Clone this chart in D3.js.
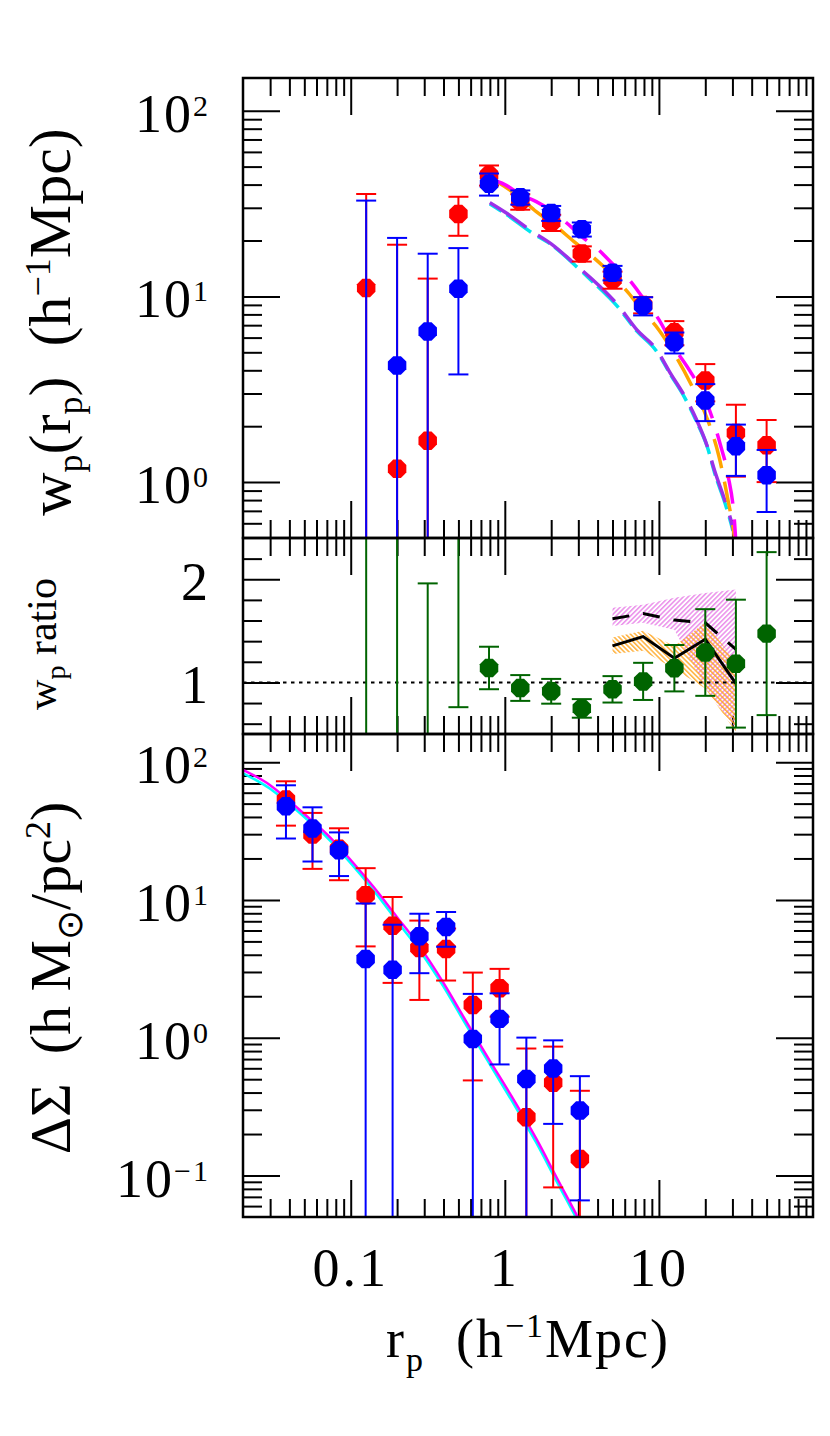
<!DOCTYPE html>
<html>
<head>
<meta charset="utf-8">
<script src="https://cdn.jsdelivr.net/npm/d3@7"></script>
<style>
  body { margin: 0; background: #fff; }
  svg text { font-family: "Liberation Serif", "Times New Roman", serif; fill: #000; white-space: pre; }
</style>
</head>
<body>
<svg id="chart" width="830" height="1436"></svg>
<script>
// projected clustering, w_p(r_p)
const rpWp = [0.126, 0.2, 0.316, 0.5, 0.79, 1.26, 2.0, 3.16, 5.0, 7.9, 12.6, 20, 31.6, 50];
const wpRed = [11.1, 1.18, 1.67, 27.8, 45.1, 32.4, 25.0, 17.0, 12.3, 9.0, 6.41, 3.52, 1.84, 1.58];
const wpRedErr = [24.5, 17.8, 10.8, 6.6, 5.6, 3.1, 2.5, 1.6, 1.3, 0.9, 0.95, 0.8, 0.77, 0.58];
const wpBlue = [0.3, 4.25, 6.48, 11.0, 40.4, 34.2, 28.1, 23.0, 13.4, 8.9, 5.66, 2.75, 1.56, 1.09];
const wpBlueErr = [32.5, 16.4, 10.5, 7.2, 5.5, 3.0, 2.6, 2.0, 1.2, 1.0, 0.73, 0.62, 0.48, 0.4];

// model curves for w_p
const magX = [0.8, 1.0, 1.26, 1.6, 2.0, 2.5, 3.16, 4.0, 5.0, 6.3, 7.9, 10, 12.6, 15.8, 20, 25, 28, 31, 32];
const magY = [43, 40, 35.5, 32.4, 29, 25, 21, 18, 15, 12.5, 9.8, 7.5, 5.3, 4.0, 2.8, 1.6, 1.1, 0.6, 0.4];
const orX = [0.8, 1.0, 1.26, 1.6, 2.0, 2.8, 3.7, 5.0, 6.3, 7.9, 10, 12.6, 16, 21, 24.5, 28, 31, 32];
const orY = [44, 39, 34, 28.6, 25, 19.8, 16.4, 13.0, 10.5, 8.3, 6.6, 4.9, 3.42, 2.1, 1.38, 0.81, 0.5, 0.4];
const puX = [0.8, 1.0, 1.5, 2.0, 3.05, 3.6, 5.4, 7.2, 9.6, 12, 14.7, 17.4, 20.6, 23, 27, 30, 32];
const puY = [32, 28.5, 22.4, 19.2, 14.2, 12.6, 9.0, 6.6, 5.2, 3.8, 2.9, 2.2, 1.56, 1.15, 0.78, 0.58, 0.45];
const cyX = [0.8, 1.0, 1.5, 2.0, 3.05, 3.6, 5.4, 7.2, 9.6, 12, 14.7, 17.4, 20.6, 23, 27, 30, 32];
const cyY = [31.5, 28, 22, 19, 14, 12.3, 8.8, 6.5, 5.1, 3.75, 2.85, 2.15, 1.55, 1.12, 0.76, 0.56, 0.44];

// ratio panel
const ratio = [3.0, 0.28, 0.26, 2.53, 1.14, 0.946, 0.914, 0.748, 0.933, 1.01, 1.138, 1.29, 1.182, 1.473];
const ratioErr = [3.0, 3.0, 1.7, 1.77, 0.206, 0.125, 0.12, 0.09, 0.128, 0.18, 0.225, 0.42, 0.62, 0.79];
const ratioModX = [5.0, 7.9, 12.6, 20, 31.6];
const ratioDash = [1.617, 1.668, 1.604, 1.578, 1.32];
const ratioSolid = [1.354, 1.444, 1.234, 1.419, 0.988];
const pinkHi = [1.725, 1.754, 1.82, 1.866, 1.9];
const pinkLo = [1.546, 1.578, 1.51, 0.95, 0.55];
const orangeHi = [1.435, 1.50, 1.354, 1.58, 1.2];
const orangeLo = [1.275, 1.306, 1.13, 0.94, 0.52];

// lensing, Delta Sigma
const rpDs = [0.038, 0.0565, 0.084, 0.125, 0.187, 0.279, 0.416, 0.62, 0.925, 1.38, 2.06, 3.07];
const dsRed = [53.6, 29.8, 23.5, 10.8, 6.5, 4.48, 4.4, 1.73, 2.29, 0.265, 0.472, 0.132];
const dsRedErr = [19, 13, 9.6, 6.2, 4.0, 2.6, 1.8, 1.24, 0.87, 0.57, 0.39, 0.28];
const dsBlue = [47.9, 33.0, 22.9, 3.72, 3.11, 5.44, 6.37, 0.98, 1.37, 0.502, 0.597, 0.296];
const dsBlueErr = [20, 14, 8, 5.7, 3.5, 2.5, 1.8, 1.1, 0.73, 0.5, 0.36, 0.23];
const dsModX = [0.02, 0.03, 0.038, 0.05, 0.07, 0.1, 0.14, 0.2, 0.28, 0.4, 0.56, 0.8, 1.1, 1.6, 2.2, 3.0, 3.5];
const dsMag = [88, 68, 55, 42, 30, 19.5, 12.5, 7.5, 4.6, 2.5, 1.32, 0.68, 0.38, 0.185, 0.094, 0.049, 0.035];
const dsCyan = [83, 64, 52, 40, 28.5, 18.5, 11.8, 7.0, 4.3, 2.35, 1.24, 0.64, 0.355, 0.173, 0.088, 0.046, 0.033];

// ticks
const xTickVals = [0.1, 1, 10];
const xTickText = ["0.1", "1", "10"];
const wpTickVals = [100, 10, 1];
const wpTickExp = ["2", "1", "0"];
const ratioTickVals = [2, 1];
const ratioMinor = [0.6, 0.8, 1.2, 1.4, 1.6, 1.8, 2.2];
const dsTickVals = [100, 10, 1, 0.1];
const dsTickExp = ["2", "1", "0", "\u22121"];

const L = 243, R = 813;
const svg = d3.select("#chart");
const defs = svg.append("defs");

const x = d3.scaleLog().domain([0.02, 100]).range([L, R]);
const yTop = d3.scaleLog().domain([0.5, 150]).range([538, 78]);
const yMid = d3.scaleLinear().domain([0.5, 2.4]).range([734, 538]);
const yBot = d3.scaleLog().domain([0.05, 160]).range([1217, 734]);

function logMinor(lo, hi) {
  const out = [];
  for (let k = -3; k <= 3; k++) {
    for (let m = 2; m <= 9; m++) {
      const v = m * Math.pow(10, k);
      if (v > lo * 1.001 && v < hi * 0.999) out.push(v);
    }
  }
  return out;
}
const xMinor = logMinor(0.02, 100);

const panels = [
  { id: "top", y: yTop, y0: 78, y1: 538, major: wpTickVals, minor: logMinor(0.5, 150) },
  { id: "mid", y: yMid, y0: 538, y1: 734, major: ratioTickVals, minor: ratioMinor },
  { id: "bot", y: yBot, y0: 734, y1: 1217, major: dsTickVals, minor: logMinor(0.05, 160) }
];

// ticks on all four sides, pointing inward
panels.forEach(p => {
  defs.append("clipPath").attr("id", "clip-" + p.id)
    .append("rect").attr("x", L).attr("y", p.y0).attr("width", R - L).attr("height", p.y1 - p.y0);
  const g = svg.append("g").attr("class", "ticks");
  const put = (axis, tx, ty, vals, size) => {
    const a = g.append("g").attr("transform", `translate(${tx},${ty})`)
      .call(axis.tickValues(vals).tickSize(-size).tickFormat(""));
    a.select(".domain").remove();
    a.selectAll("line").attr("stroke", "#000").attr("stroke-width", 2);
  };
  put(d3.axisTop(x), 0, p.y0, xTickVals, 37);
  put(d3.axisTop(x), 0, p.y0, xMinor, 18);
  put(d3.axisBottom(x), 0, p.y1, xTickVals, 37);
  put(d3.axisBottom(x), 0, p.y1, xMinor, 18);
  put(d3.axisLeft(p.y), L, 0, p.major, 37);
  put(d3.axisLeft(p.y), L, 0, p.minor, 19);
  put(d3.axisRight(p.y), R, 0, p.major, 37);
  put(d3.axisRight(p.y), R, 0, p.minor, 19);
});

// hatch patterns
function hatch(id, color, angle) {
  const pt = defs.append("pattern").attr("id", id).attr("patternUnits", "userSpaceOnUse")
    .attr("width", 3.4).attr("height", 3.4).attr("patternTransform", `rotate(${angle})`);
  pt.append("line").attr("x1", 0.8).attr("y1", 0).attr("x2", 0.8).attr("y2", 3.4)
    .attr("stroke", color).attr("stroke-width", 1.3);
}
hatch("hatch-pink", "#e77ce7", 45);
hatch("hatch-orange", "#ffa41c", -45);

function octagon(cx, cy, r) {
  const pts = d3.range(8).map(k => {
    const a = Math.PI / 8 + k * Math.PI / 4;
    return [cx + r * Math.cos(a), cy + r * Math.sin(a)];
  });
  return d3.line()(pts) + "Z";
}

function points(g, ys, xs, vs, es, color) {
  const py = v => (v > 0 || ys === yMid) ? ys(v) : ys.range()[0] + 200;
  xs.forEach((xv, i) => {
    const px = x(xv);
    const lo = py(vs[i] - es[i]), hi = py(vs[i] + es[i]);
    g.append("line").attr("x1", px).attr("x2", px).attr("y1", lo).attr("y2", hi)
      .attr("stroke", color).attr("stroke-width", 2);
    [lo, hi].forEach(yy => g.append("line").attr("x1", px - 10).attr("x2", px + 10)
      .attr("y1", yy).attr("y2", yy).attr("stroke", color).attr("stroke-width", 2));
  });
  xs.forEach((xv, i) => {
    g.append("path").attr("d", octagon(x(xv), py(vs[i]), 10)).attr("fill", color);
  });
}

function curve(g, ys, xs, vs, color, width, dash) {
  const line = d3.line().x((d, i) => x(xs[i])).y(d => ys(d)).curve(d3.curveMonotoneX);
  g.append("path").attr("d", line(vs)).attr("fill", "none").attr("stroke", color)
    .attr("stroke-width", width).attr("stroke-dasharray", dash || null);
}

// top panel
const gTop = svg.append("g").attr("clip-path", "url(#clip-top)");
curve(gTop, yTop, cyX, cyY, "#00e5ee", 3.5, "14,6,30,8");
curve(gTop, yTop, puX, puY, "#9b30e8", 3.5, "44,14");
curve(gTop, yTop, orX, orY, "#ffa500", 3.5, "30,14");
curve(gTop, yTop, magX, magY, "#ff00ff", 3.5, "28,16");
points(gTop, yTop, rpWp, wpRed, wpRedErr, "#ff0000");
points(gTop, yTop, rpWp, wpBlue, wpBlueErr, "#0000ff");

// middle panel
const gMid = svg.append("g").attr("clip-path", "url(#clip-mid)");
const band = (hi, lo) => d3.area().x((d, i) => x(ratioModX[i])).y0((d, i) => yMid(lo[i])).y1(d => yMid(d))(hi);
gMid.append("path").attr("d", band(pinkHi, pinkLo)).attr("fill", "url(#hatch-pink)");
gMid.append("path").attr("d", band(orangeHi, orangeLo)).attr("fill", "url(#hatch-orange)");
gMid.append("line").attr("x1", L).attr("x2", R).attr("y1", yMid(1)).attr("y2", yMid(1))
  .attr("stroke", "#000").attr("stroke-width", 2).attr("stroke-dasharray", "3.5,4.5");
const lin = d3.line().x((d, i) => x(ratioModX[i])).y(d => yMid(d));
gMid.append("path").attr("d", lin(ratioDash)).attr("fill", "none").attr("stroke", "#000")
  .attr("stroke-width", 3).attr("stroke-dasharray", "17,14");
gMid.append("path").attr("d", lin(ratioSolid)).attr("fill", "none").attr("stroke", "#000")
  .attr("stroke-width", 3);
points(gMid, yMid, rpWp, ratio, ratioErr, "#006400");

// bottom panel
const gBot = svg.append("g").attr("clip-path", "url(#clip-bot)");
curve(gBot, yBot, dsModX, dsCyan, "#00ffff", 2.5);
curve(gBot, yBot, dsModX, dsMag, "#ff00ff", 2.5);
points(gBot, yBot, rpDs, dsRed, dsRedErr, "#ff0000");
points(gBot, yBot, rpDs, dsBlue, dsBlueErr, "#0000ff");

// frames
panels.forEach(p => {
  svg.append("rect").attr("x", L).attr("y", p.y0).attr("width", R - L).attr("height", p.y1 - p.y0)
    .attr("fill", "none").attr("stroke", "#000").attr("stroke-width", 2.5);
});

// text with sub/superscripts
function rich(parent, parts, size, small, subShift, supShift) {
  const t = parent.append("text").style("font-size", size + "px");
  let off = 0;
  parts.forEach(p => {
    const target = p[1] === "sub" ? subShift : p[1] === "sup" ? -supShift : 0;
    t.append("tspan").attr("dy", target - off)
      .style("font-size", (p[1] ? small : size) + "px").text(p[0]);
    off = target;
  });
  return t;
}

// y tick labels
const labels = svg.append("g");
wpTickVals.forEach((v, i) => {
  rich(labels, [["10"], [wpTickExp[i], "sup"]], 54, 30, 0, 16)
    .attr("x", 210).attr("y", yTop(v) + 21).attr("text-anchor", "end")
    .style("letter-spacing", "2px");
});
ratioTickVals.forEach(v => {
  labels.append("text").attr("x", 208).attr("y", yMid(v) + 21).attr("text-anchor", "end")
    .style("font-size", "54px").text(String(v));
});
dsTickVals.forEach((v, i) => {
  rich(labels, [["10"], [dsTickExp[i], "sup"]], 54, 30, 0, 16)
    .attr("x", 210).attr("y", yBot(v) + 21).attr("text-anchor", "end")
    .style("letter-spacing", "2px");
});

// x tick labels
xTickVals.forEach((v, i) => {
  labels.append("text").attr("x", x(v)).attr("y", 1286).attr("text-anchor", "middle")
    .style("font-size", "54px").style("letter-spacing", "3px").text(xTickText[i]);
});

// axis titles
rich(labels, [["r"], ["p", "sub"], ["  (h"], ["\u22121", "sup"], ["Mpc)"]], 54, 34, 14, 20)
  .attr("x", 528).attr("y", 1357).attr("text-anchor", "middle").style("letter-spacing", "2px");

rich(labels, [["w"], ["p", "sub"], ["(r"], ["p", "sub"], [")  (h"], ["\u22121", "sup"], ["Mpc)"]], 60, 36, 12, 20)
  .attr("text-anchor", "middle").attr("transform", "translate(70,322) rotate(-90)");

rich(labels, [["w"], ["p", "sub"], [" ratio"]], 42, 28, 9, 0)
  .attr("text-anchor", "middle").attr("transform", "translate(56,644) rotate(-90)");

rich(labels, [["\u0394\u03a3  (h M"], ["\u2299", "sub"], ["/pc"], ["2", "sup"], [")"]], 58, 36, 12, 20)
  .attr("text-anchor", "middle").attr("transform", "translate(70,978) rotate(-90)");
</script>
</body>
</html>
